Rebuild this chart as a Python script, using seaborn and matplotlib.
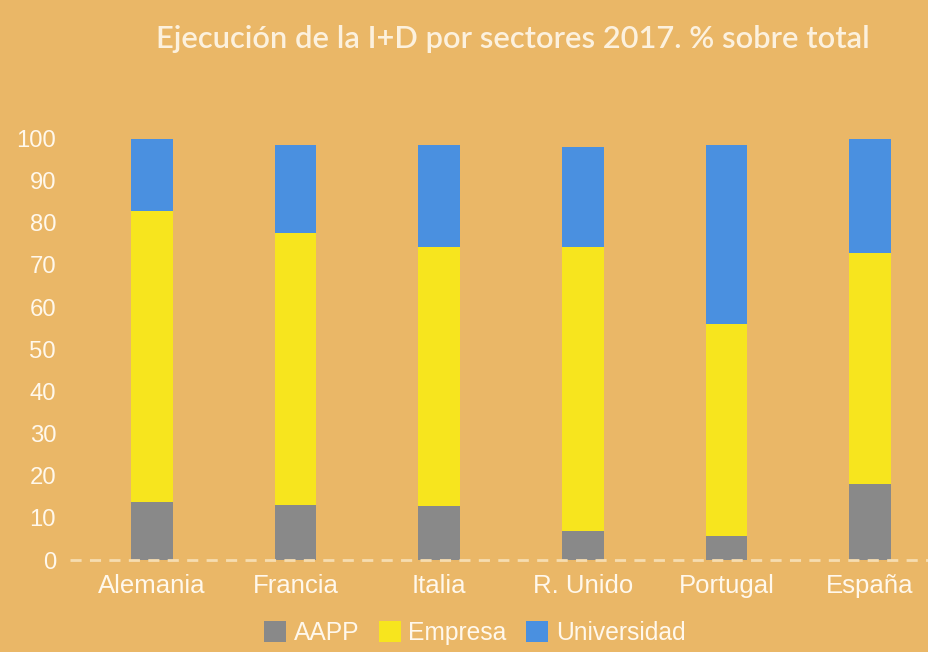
import numpy as np
import pandas as pd
import seaborn as sns
import matplotlib.pyplot as plt
from matplotlib.patches import Patch

# Data (% of total R&D spending, 2017)
paises = ['Alemania', 'Francia', 'Italia', 'R. Unido', 'Portugal', 'España']
aapp = [13.7, 13.0, 12.7, 6.8, 5.6, 18.0]
empresa = [69.0, 64.5, 61.5, 67.4, 50.3, 54.8]
universidad = [17.3, 20.9, 24.2, 23.7, 42.5, 27.0]

bg = '#EAB767'
colores = {'AAPP': '#898989', 'Empresa': '#F7E51E', 'Universidad': '#4A90E0'}
texto = '#FFF8EC'

df = pd.DataFrame({'pais': paises, 'AAPP': aapp,
                   'Empresa': empresa, 'Universidad': universidad})
# cumulative tops so the stacked bars can be drawn back to front
df['top_emp'] = df['AAPP'] + df['Empresa']
df['top_uni'] = df['top_emp'] + df['Universidad']

sns.set_style('white')
plt.rcParams['font.family'] = ['Liberation Sans', 'DejaVu Sans']

fig = plt.figure(figsize=(9.29, 6.52), dpi=100, facecolor=bg)
ax = fig.add_axes([0.0753, 0.1411, 0.9247, 0.6788])
ax.set_facecolor(bg)

for col, key in [('top_uni', 'Universidad'), ('top_emp', 'Empresa'), ('AAPP', 'AAPP')]:
    sns.barplot(data=df, x='pais', y=col, color=colores[key], width=0.29,
                saturation=1, linewidth=0, ax=ax)

ax.set_xlim(-0.57, 5.41)
ax.set_ylim(0, 105)
ax.set_yticks(range(0, 101, 10))
ax.set_xlabel('')
ax.set_ylabel('')
for s in ax.spines.values():
    s.set_visible(False)
ax.axhline(0, color='#F6DDB0', lw=2, ls=(0, (4, 3)), zorder=5, clip_on=False)
ax.tick_params(axis='both', length=0, colors=texto, labelsize=18.5)
ax.tick_params(axis='y', labelsize=17.2, pad=10)
ax.tick_params(axis='x', pad=10)

fig.text(0.5517, 0.94, 'Ejecución de la I+D por sectores 2017. % sobre total',
         ha='center', va='center', fontsize=22.2, color='#FCF1DE',
         weight='semibold', family=['Lato', 'DejaVu Sans'])

handles = [Patch(facecolor=c, edgecolor='none', label=k) for k, c in colores.items()]
fig.legend(handles=handles, loc='center', bbox_to_anchor=(0.511, 0.029),
           ncol=3, frameon=False, fontsize=17.7, labelcolor=texto,
           handlelength=0.9, handleheight=0.9, handletextpad=0.3,
           columnspacing=0.8)

plt.savefig('out.png', dpi=100, facecolor=bg)
